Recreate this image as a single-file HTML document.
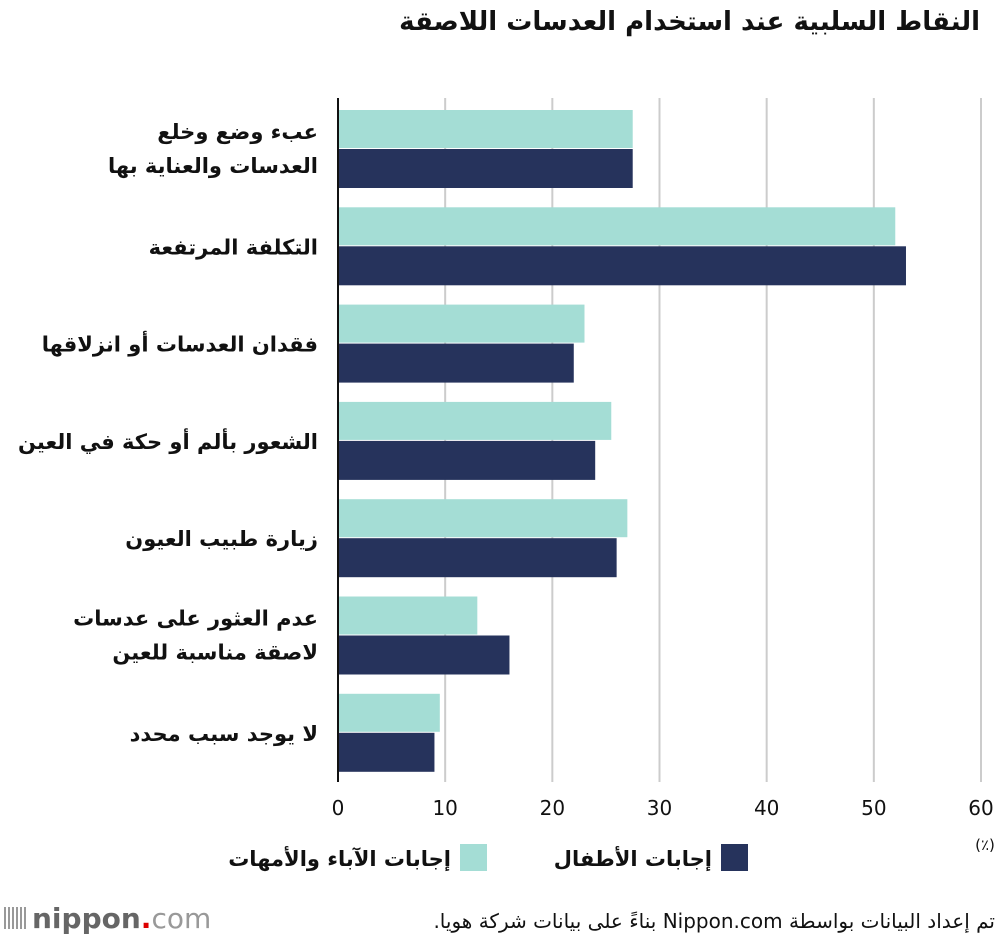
<!DOCTYPE html>
<html><head><meta charset="utf-8"><style>
body{margin:0;background:#fff;width:1000px;height:940px;overflow:hidden;font-family:"DejaVu Sans","Liberation Sans",sans-serif}
svg text{font-family:"DejaVu Sans","Liberation Sans",sans-serif}
</style></head><body>
<svg id="c" width="1000" height="940"></svg>
<script>
const categories=[["عبء وضع وخلع","العدسات والعناية بها"],["التكلفة المرتفعة"],["فقدان العدسات أو انزلاقها"],["الشعور بألم أو حكة في العين"],["زيارة طبيب العيون"],["عدم العثور على عدسات","لاصقة مناسبة للعين"],["لا يوجد سبب محدد"]];
const parents=[27.5,52,23,25.5,27,13,9.5];
const children=[27.5,53,22,24,26,16,9];
const ticks=[0,10,20,30,40,50,60];
const svg=document.getElementById('c');const NS='http://www.w3.org/2000/svg';
function mk(t,a,p){const e=document.createElementNS(NS,t);for(const k in a)e.setAttribute(k,a[k]);(p||svg).appendChild(e);return e;}
const x=v=>338+v*(981-338)/60;
const gy=i=>110+i*97.3;
let t=mk('text',{x:980,y:30,'text-anchor':'start','font-size':26,'font-weight':'bold',fill:'#111',direction:'rtl'});t.textContent='النقاط السلبية عند استخدام العدسات اللاصقة';

ticks.forEach(v=>{if(v>0){const g=mk('line',{x1:x(v),x2:x(v),y1:98,y2:782,stroke:'#ccc','stroke-width':2});}
const l=mk('text',{x:x(v),y:815,'text-anchor':'middle','font-size':20,fill:'#111'});l.textContent=v;});
categories.forEach((c,i)=>{const y=gy(i);
const a=mk('rect',{x:x(0),y:y,width:x(parents[i])-x(0),height:38,fill:'#a4ddd5'});
const b=mk('rect',{x:x(0),y:y+39,width:x(children[i])-x(0),height:39,fill:'#26335c'});
const cy=y+39;
c.forEach((line,j)=>{const yy=c.length==1?cy+8:cy-10+j*34;
const tt=mk('text',{x:318,y:yy,'text-anchor':'start','font-size':21,'font-weight':'bold',fill:'#111',direction:'rtl'});
tt.textContent=line;});});
const ax=mk('line',{x1:338,x2:338,y1:98,y2:782,stroke:'#111','stroke-width':2});
t=mk('text',{x:985,y:850,'text-anchor':'middle','font-size':15,fill:'#111'});t.textContent='(٪)';
let r=mk('rect',{x:721,y:844,width:27,height:27,fill:'#26335c'});
t=mk('text',{x:712,y:866,'text-anchor':'start','font-size':21,'font-weight':'bold',fill:'#111',direction:'rtl'});t.textContent='إجابات الأطفال';
r=mk('rect',{x:460,y:844,width:27,height:27,fill:'#a4ddd5'});
t=mk('text',{x:451,y:866,'text-anchor':'start','font-size':21,'font-weight':'bold',fill:'#111',direction:'rtl'});t.textContent='إجابات الآباء والأمهات';
t=mk('text',{x:995,y:928,'text-anchor':'start','font-size':20,fill:'#111',direction:'rtl'});t.textContent='تم إعداد البيانات بواسطة Nippon.com بناءً على بيانات شركة هويا.';
for(let k=0;k<6;k++){const s=mk('rect',{x:4+k*4,y:907,width:2,height:22,fill:'#999'});}
t=mk('text',{x:32,y:928,'font-size':28,fill:'#666','font-family':'Liberation Sans'});
t.innerHTML='<tspan font-weight="bold">nippon</tspan><tspan fill="#d00" font-weight="bold">.</tspan><tspan fill="#999">com</tspan>';
</script></body></html>
